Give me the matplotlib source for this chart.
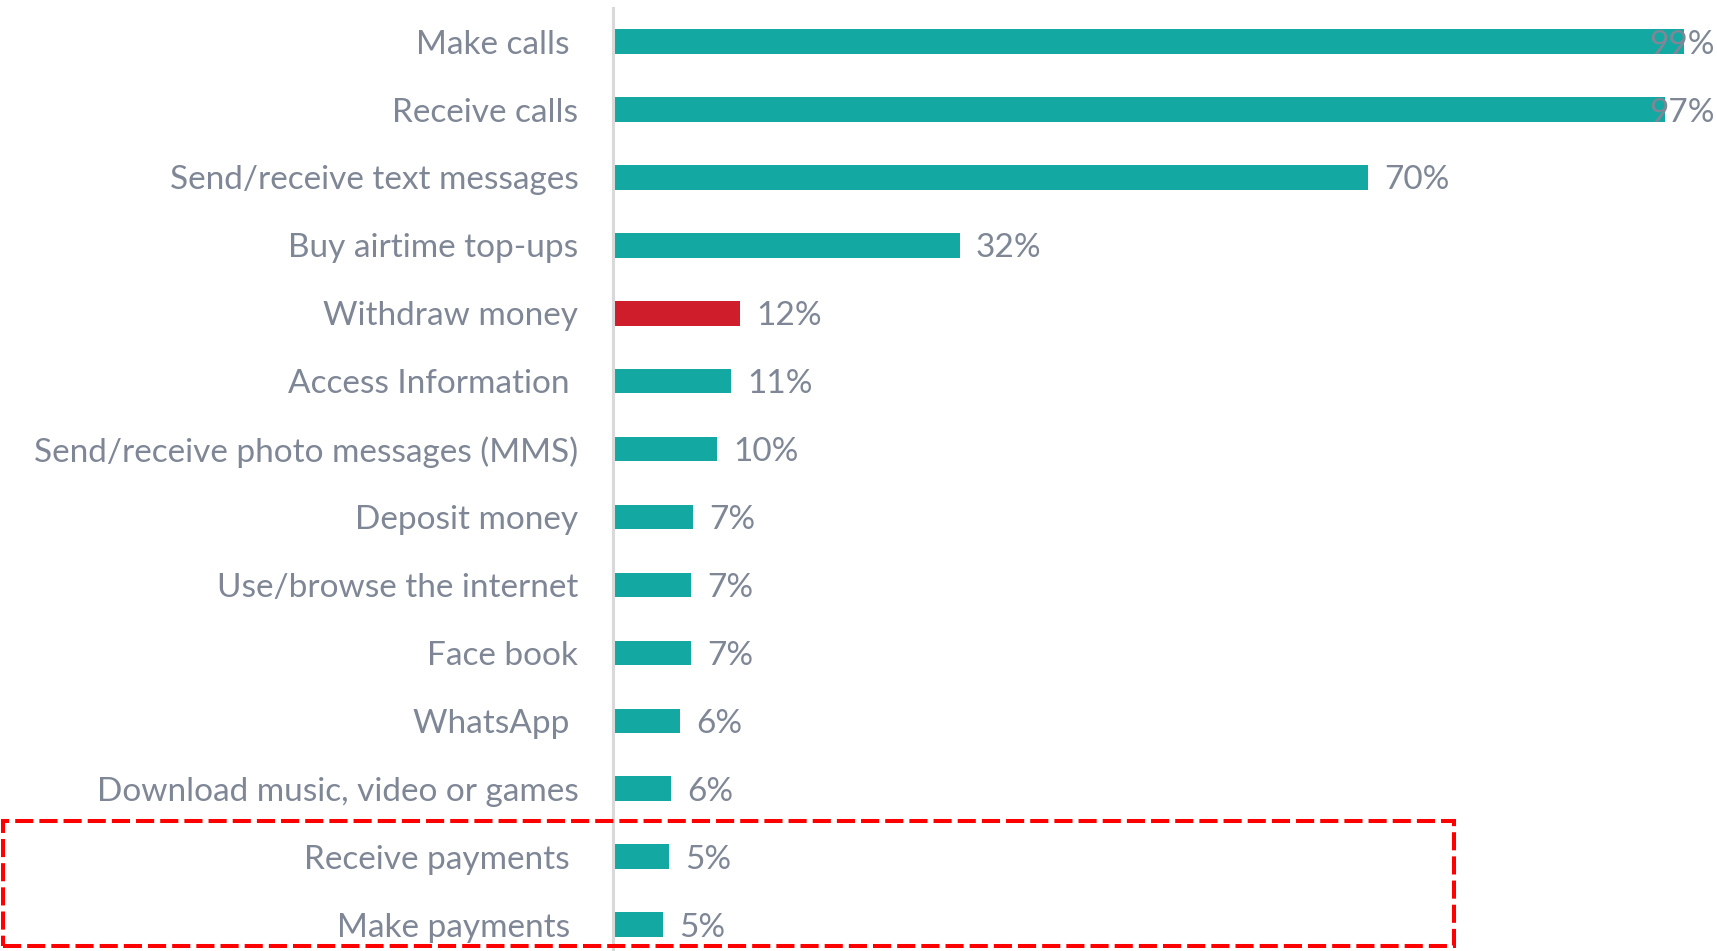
import matplotlib
matplotlib.use("Agg")
import matplotlib.pyplot as plt
from matplotlib.patches import Rectangle

categories = [
    "Make calls ", "Receive calls", "Send/receive text messages", "Buy airtime top-ups",
    "Withdraw money", "Access Information ", "Send/receive photo messages (MMS)",
    "Deposit money", "Use/browse the internet", "Face book", "WhatsApp ",
    "Download music, video or games", "Receive payments ", "Make payments ",
]
values = [99.1, 97.4, 69.9, 32.1, 11.8, 10.9, 9.6, 7.4, 7.2, 7.2, 6.2, 5.4, 5.2, 4.6]
value_labels = ["99%", "97%", "70%", "32%", "12%", "11%", "10%", "7%", "7%", "7%",
                "6%", "6%", "5%", "5%"]
highlight = "Withdraw money"

TEAL = "#14A8A3"
RED = "#CF1D2B"
GRAY = "#7F8796"

plt.rcParams['font.family'] = ['Lato', 'DejaVu Sans']

W, H = 1717, 951
fig = plt.figure(figsize=(W / 100, H / 100), dpi=100)
ax = fig.add_axes([613 / W, 0, 1 - 613 / W, (951 - 8) / H])

ypos = list(range(len(categories)))
colors = [RED if c == highlight else TEAL for c in categories]
ax.barh(ypos, values, height=0.36, color=colors)

ax.set_xlim(0, 102.2)
ax.set_ylim(13.39, -0.495)
ax.set_yticks(ypos)
ax.set_yticklabels(categories, fontsize=24, color=GRAY)
ax.tick_params(axis='y', length=0, pad=25)
ax.set_xticks([])
for s in ["top", "right", "bottom"]:
    ax.spines[s].set_visible(False)
ax.spines["left"].set_color("#D9D9D9")
ax.spines["left"].set_linewidth(2.2)

for y, v, lab in zip(ypos, values, value_labels):
    if v > 90:
        ax.text(0.998, y, lab, transform=ax.get_yaxis_transform(), ha='right',
                va='center_baseline', fontsize=24, color=GRAY)
    else:
        ax.text(v + 1.5, y, lab, ha='left', va='center_baseline', fontsize=24, color=GRAY)

box = Rectangle((3 / W, (H - 946) / H), (1454 - 3) / W, (946 - 821) / H,
                transform=fig.transFigure, fill=False, edgecolor="#FF0000",
                linewidth=2.9, linestyle=(0, (4.5, 1.5)), clip_on=False)
fig.patches.append(box)

fig.savefig("out.png", dpi=100)
